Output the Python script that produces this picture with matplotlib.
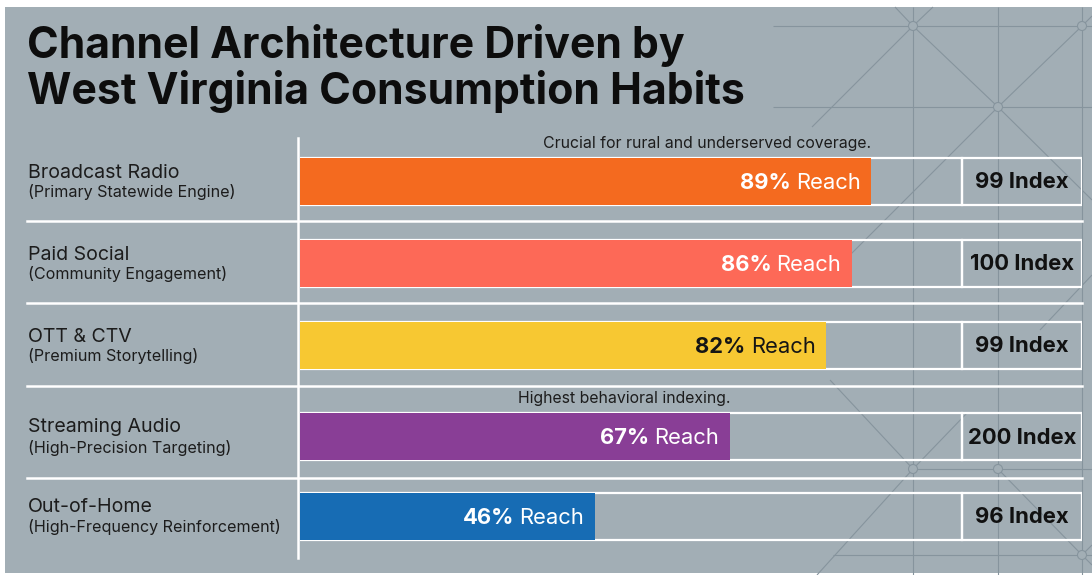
import matplotlib.pyplot as plt
from matplotlib.patches import Rectangle, Circle

plt.rcParams['font.family'] = ['Inter', 'DejaVu Sans']

# data
channels = ["Broadcast Radio", "Paid Social", "OTT & CTV", "Streaming Audio", "Out-of-Home"]
roles = ["(Primary Statewide Engine)", "(Community Engagement)", "(Premium Storytelling)",
         "(High-Precision Targeting)", "(High-Frequency Reinforcement)"]
reach = [89, 86, 82, 67, 46]
index = [99, 100, 99, 200, 96]
notes = ["Crucial for rural and underserved coverage.", None, None, "Highest behavioral indexing.", None]
colors = ["#F46A1F", "#FD6957", "#F7C832", "#893E96", "#176CB4"]
label_colors = ["white", "white", "#151515", "white", "white"]
title = "Channel Architecture Driven by\nWest Virginia Consumption Habits"

# layout (pixels)
W, H = 1092, 575
BG = "#A2AEB5"
row_y = [181.5, 263.5, 345.5, 436.5, 516]
BAR_H = 47
PX_PER_PCT = 6.42
X0 = 300
TRACK_END = (962 - X0) / PX_PER_PCT
BOX_END = (1082 - X0) / PX_PER_PCT
seps = [221, 303, 386, 478]

fig = plt.figure(figsize=(W / 100, H / 100), dpi=100)
fig.patch.set_facecolor("white")

bg = fig.add_axes([0, 0, 1, 1])
bg.set_xlim(0, W)
bg.set_ylim(H, 0)
bg.axis("off")
bg.add_patch(Rectangle((5, 7), W - 5, H - 9, facecolor=BG, edgecolor="none", zorder=0))

# faint geometric pattern behind
deco = "#86949d"
segs = [
    [(913, 7), (913, 575)], [(998, 7), (998, 575)], [(1082, 7), (1082, 575)],
    [(773, 26), (1092, 26)], [(773, 107), (1092, 107)],
    [(913, 469), (1092, 469)], [(833, 555), (1092, 555)],
    [(895, 7), (913, 26), (998, 107), (1092, 200)],
    [(933, 7), (913, 26), (812, 127)],
    [(1092, 16), (1082, 26), (998, 107), (840, 265)],
    [(1092, 275), (1040, 330)],
    [(830, 380), (913, 469)],
    [(967, 413), (913, 469), (817, 575)],
    [(998, 469), (1082, 555), (1092, 565)],
    [(1082, 555), (1092, 545)],
]
for s in segs:
    xs, ys = zip(*s)
    bg.plot(xs, ys, color=deco, lw=0.8, zorder=1, solid_capstyle="butt")
for cx, cy in [(913, 26), (1082, 26), (998, 107), (913, 469), (998, 469), (1082, 555)]:
    bg.add_patch(Circle((cx, cy), 4.5, facecolor=BG, edgecolor=deco, lw=0.8, zorder=1.5))

# title
bg.text(27, 104, title, fontsize=30.8, fontweight="bold", color="#0d0d0d",
        va="baseline", ha="left", linespacing=1.1, zorder=5)

# grid lines
for y in seps:
    bg.plot([27, 1082], [y, y], color="white", lw=1.8, zorder=2)
bg.plot([298, 298], [138, 558], color="white", lw=1.8, zorder=2)

# row labels
for y, name, role in zip(row_y, channels, roles):
    bg.text(28, y - 4, name, fontsize=14.1, color="#1c1c1c", va="baseline", zorder=5)
    bg.text(28, y + 16, role, fontsize=11.6, color="#1c1c1c", va="baseline", zorder=5)

# bars
ax = fig.add_axes([X0 / W, 0, (1082 - X0) / W, 1])
ax.set_xlim(0, BOX_END)
ax.set_ylim(H, 0)
ax.axis("off")
ax.patch.set_alpha(0)

ax.barh(row_y, TRACK_END, height=BAR_H, fill=False, edgecolor="white", lw=1.6, zorder=2)
ax.barh(row_y, BOX_END - TRACK_END, left=TRACK_END, height=BAR_H, fill=False,
        edgecolor="white", lw=1.6, zorder=2)
ax.barh(row_y, reach, height=BAR_H, color=colors, zorder=3)

for y, r, idx, note, tc in zip(row_y, reach, index, notes, label_colors):
    t = ax.annotate("Reach", xy=(r, y), xytext=(-11, -7.5), textcoords="offset pixels",
                    ha="right", va="baseline", fontsize=15.8, color=tc, zorder=5)
    ax.annotate(f"{r}%", xy=(0, 0), xycoords=t, xytext=(-5, 0), textcoords="offset pixels",
                ha="right", va="bottom", fontsize=15.8, fontweight="bold", color=tc, zorder=5)
    ax.annotate(f"{idx} Index", xy=((TRACK_END + BOX_END) / 2, y), xytext=(0, -7),
                textcoords="offset pixels", ha="center", va="baseline", fontsize=15.9,
                fontweight="bold", color="#111111", zorder=5)
    if note:
        ax.annotate(note, xy=(r, y - BAR_H / 2), xytext=(0, 10), textcoords="offset pixels",
                    ha="right", va="baseline", fontsize=11.4, color="#1c1c1c", zorder=5)

fig.savefig("out.png", dpi=100, facecolor=fig.get_facecolor())
